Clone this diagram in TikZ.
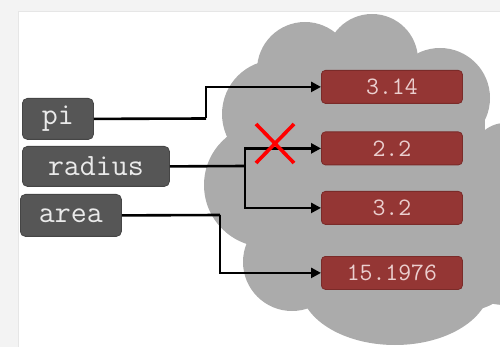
\documentclass[tikz,border=0pt]{standalone}
\usepackage{fontspec}
\usetikzlibrary{arrows.meta}
\definecolor{varbox}{HTML}{565656}
\definecolor{varedge}{HTML}{454545}
\definecolor{valbox}{HTML}{943634}
\definecolor{valedge}{HTML}{7A2B29}
\definecolor{valtext}{HTML}{EBCFCF}
\definecolor{vartext}{HTML}{EAEAEA}
\definecolor{cloudgray}{HTML}{ABABAB}
\definecolor{framegray}{HTML}{F3F3F3}
\definecolor{framedge}{HTML}{E6E6E6}
\tikzset{
  varnode/.style={draw=varedge, line width=0.8pt, fill=varbox, rounded corners=5pt,
    text=vartext, font=\ttfamily\fontsize{31}{31}\selectfont, inner sep=0pt, anchor=north west},
  valnode/.style={draw=valedge, line width=0.8pt, fill=valbox, rounded corners=4pt,
    text=valtext, font=\ttfamily\fontsize{25}{25}\selectfont, inner sep=0pt,
    minimum width=141pt, minimum height=33pt, anchor=north west},
  link/.style={line width=2.6pt, draw=black, -{Triangle[length=10pt,width=10pt]}},
  plainlink/.style={line width=2.6pt, draw=black},
  cross/.style={line width=3.6pt, draw=red}
}
\begin{document}
\begin{tikzpicture}[x=1pt,y=-1pt]
\useasboundingbox (0,0) rectangle (500,347);
% frame
\fill[framegray] (0,0) rectangle (500,11);
\fill[framegray] (0,0) rectangle (18,347);
\draw[framedge, line width=1pt] (18,347) -- (18,11.5) -- (500,11.5);
% cloud
\begin{scope}[cloudgray]
\fill (305,70) circle[radius=48];
\fill (372,60) circle[radius=46];
\fill (440,98) circle[radius=50];
\fill (505,155) circle[radius=32];
\fill (460,185) circle[radius=36];
\fill (505,245) circle[radius=60];
\fill (470,265) circle[radius=45];
\fill (395,285) ellipse[x radius=95, y radius=60];
\fill (292,262) circle[radius=49];
\fill (266,185) circle[radius=62];
\fill (276,114) circle[radius=54];
\fill (300,70) rectangle (470,290);
\fill (300,110) rectangle (485,290);
\end{scope}
% variable boxes
\node[varnode, minimum width=71pt, minimum height=41pt] (pi) at (22,98) {pi};
\node[varnode, minimum width=147pt, minimum height=40pt] (radius) at (22,146) {radius};
\node[varnode, minimum width=101pt, minimum height=42pt] (area) at (20,194) {area};
% value boxes
\node[valnode] (v314) at (321,70) {3.14};
\node[valnode] (v22) at (321,131.5) {2.2};
\node[valnode] (v32) at (321,191) {3.2};
\node[valnode] (v15) at (321,256) {15.1976};
% connectors
\coordinate (pibend) at (206,118.5);
\coordinate (radjoin) at (245,166);
\coordinate (areabend) at (220,215);
\draw[plainlink] (pi.east) -- (pibend);
\draw[link] (pibend) |- (v314.west);
\draw[plainlink] (radius.east) -- (radjoin);
\draw[link] (radjoin) |- (v22.west);
\draw[link] (radjoin) |- (v32.west);
\draw[plainlink] (area.east) -- (areabend);
\draw[link] (areabend) |- (v15.west);
% cross
\coordinate (xa) at (256,124);
\coordinate (xb) at (294,163);
\coordinate (xc) at (294,124);
\coordinate (xd) at (256,163);
\draw[cross] (xa) -- (xb);
\draw[cross] (xc) -- (xd);
\end{tikzpicture}
\end{document}
